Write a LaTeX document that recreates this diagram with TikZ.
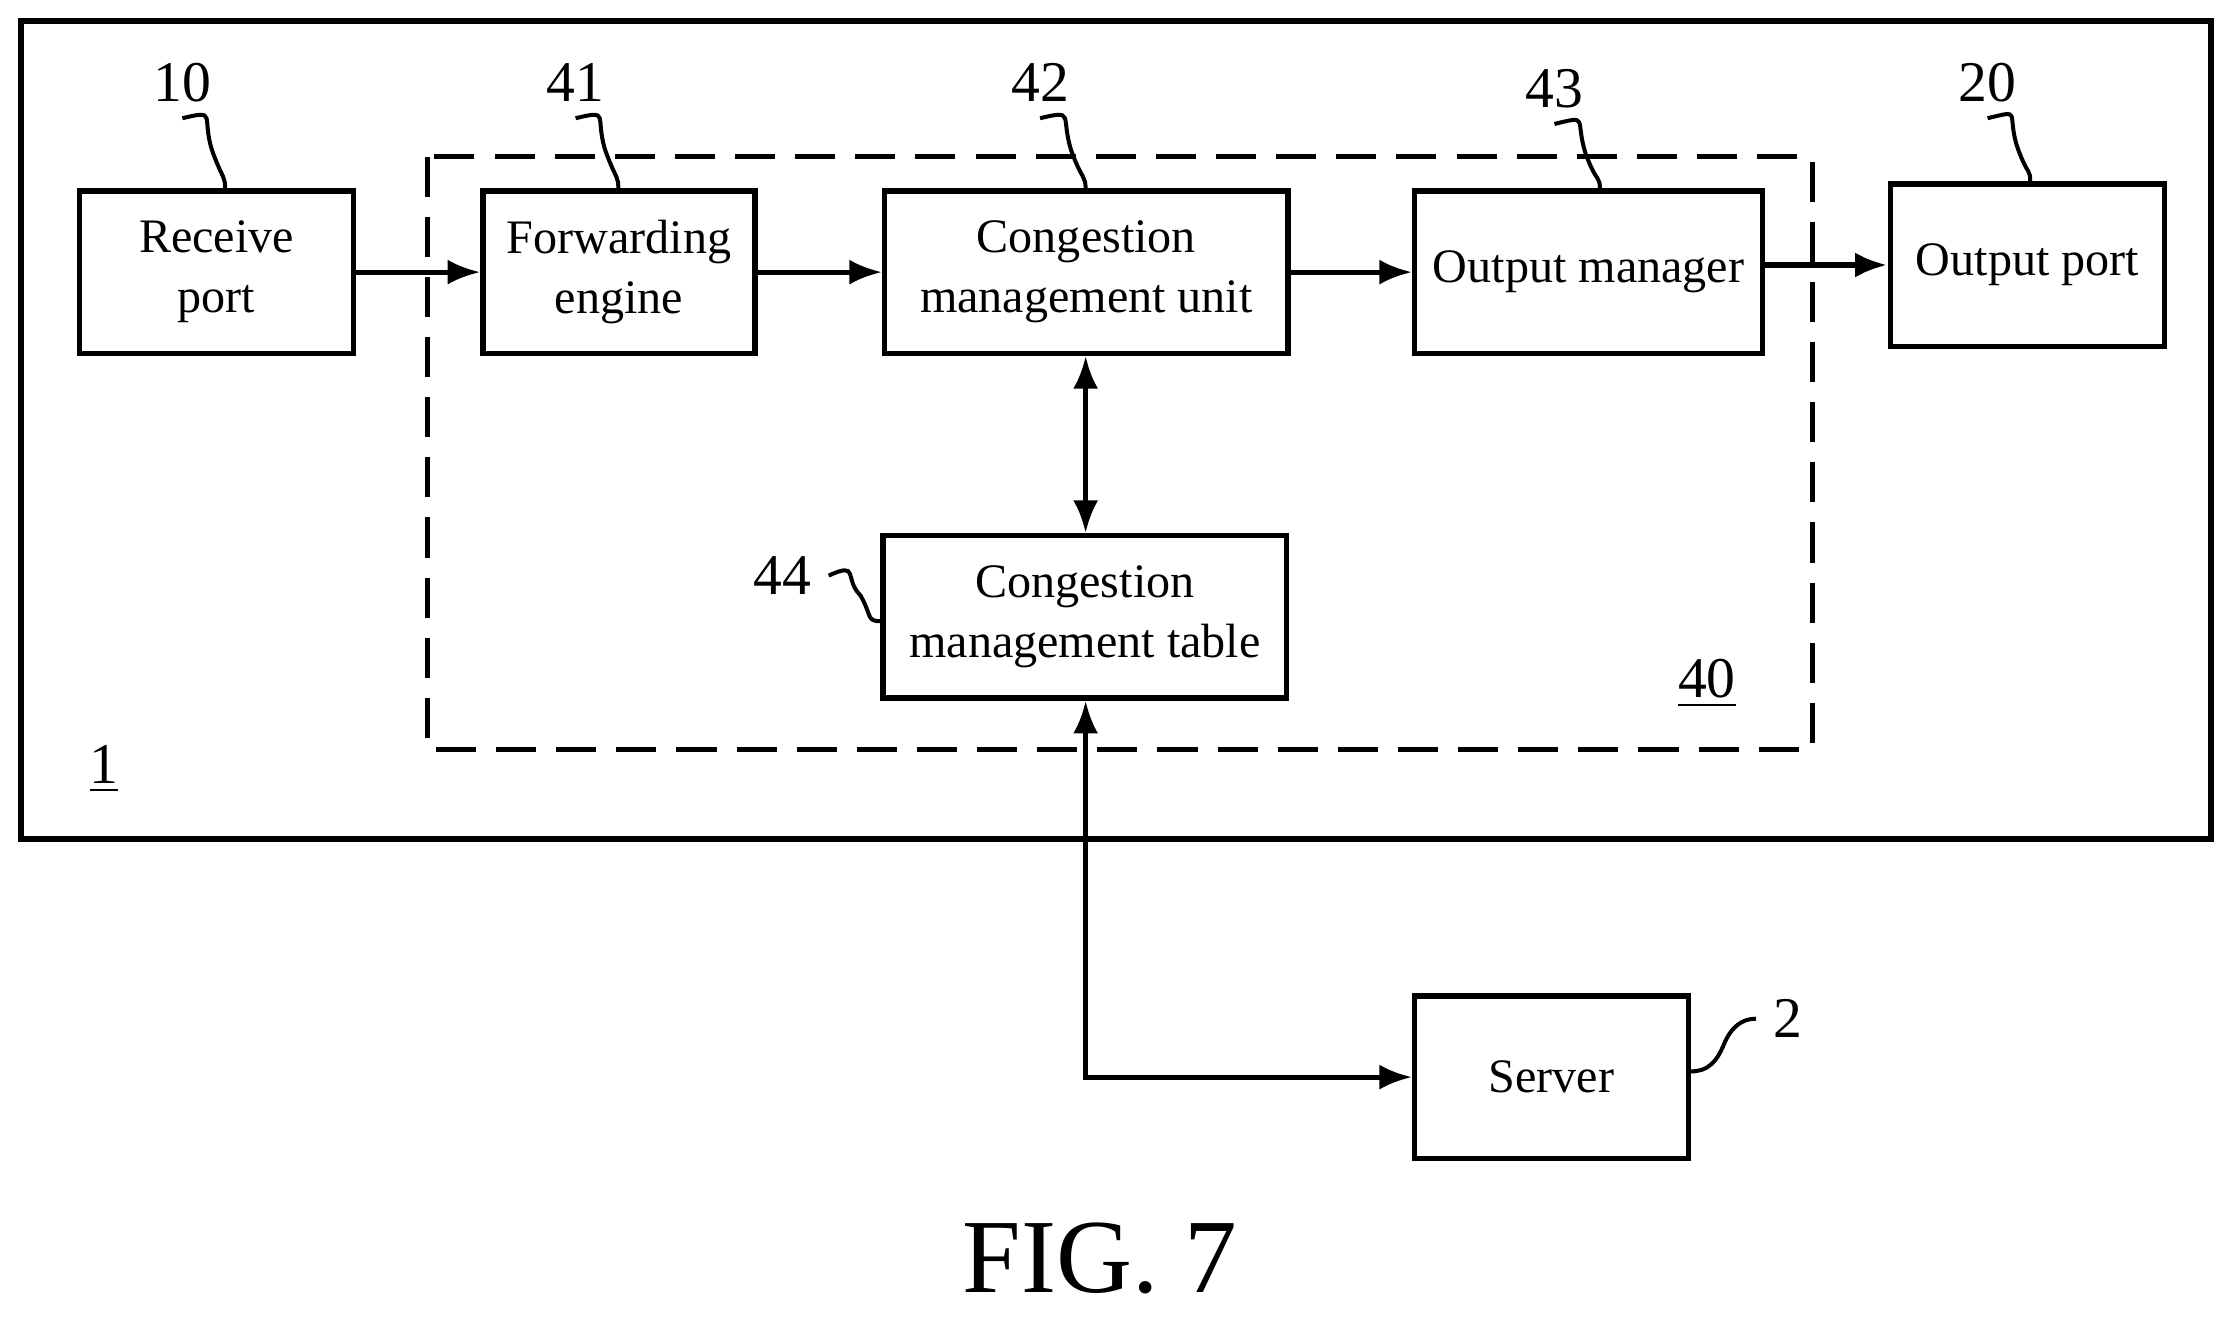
\documentclass[tikz,border=0pt]{standalone}
\usepackage{fontspec}
\setmainfont{Liberation Serif}
\usetikzlibrary{arrows.meta,calc}
\begin{document}
\begin{tikzpicture}[x=0.01cm,y=-0.01cm,
  box/.style={draw,line width=1.1pt,align=center,font=\fontsize{9.6pt}{12pt}\selectfont,inner sep=0},
  lab/.style={font=\fontsize{11.5pt}{13pt}\selectfont},
  arr/.style={line width=1pt,-{Latex[length=6.5pt,width=5pt]}},
  darr/.style={line width=1pt,{Latex[length=6.5pt,width=5pt]}-{Latex[length=6.5pt,width=5pt]}},
  lead/.style={line width=0.8pt}]
\useasboundingbox (0,0) rectangle (1568,924);
\draw[line width=1.2pt] (15,15) rectangle (1552,589);
\draw[line width=1.1pt,dash pattern=on 8pt off 4pt] (300,110) rectangle (1272,526);
\node[box,minimum width=1.92cm,minimum height=1.14cm] (rp) at (152,191) {Receive\\port};
\node[box,minimum width=1.91cm,minimum height=1.14cm] (fe) at (434.5,191) {Forwarding\\engine};
\node[box,minimum width=2.83cm,minimum height=1.14cm] (cmu) at (762.5,191) {Congestion\\management unit};
\node[box,minimum width=2.44cm,minimum height=1.14cm] (om) at (1115,191) {Output manager};
\node[box,minimum width=1.92cm,minimum height=1.14cm] (op) at (1423,186) {Output port};
\node[box,minimum width=2.83cm,minimum height=1.14cm] (cmt) at (761.5,433) {Congestion\\management table};
\node[box,minimum width=1.92cm,minimum height=1.14cm] (sv) at (1089,756) {Server};
\draw[arr] (rp.east) -- (fe.west);
\draw[arr] (fe.east) -- (cmu.west);
\draw[arr] (cmu.east) -- (om.west);
\draw[arr,line width=1.3pt] (om.east|-op.west) -- (op.west);
\draw[darr] (cmu.south-|762,0) -- (cmt.north-|762,0);
\draw[darr] (cmt.south-|762,0) |- (sv.west);
\node[lab] (l10) at (128,58) {10};
\node[lab] (l41) at (404,58) {41};
\node[lab] (l42) at (730,58) {42};
\node[lab] (l43) at (1091,62) {43};
\node[lab] (l20) at (1395,58) {20};
\node[lab] (l44) at (549,404) {44};
\node[lab] (l2) at (1255,715) {2};
\coordinate (c10) at (158,134); \coordinate (c41) at (434,134); \coordinate (c42) at (762,134);
\coordinate (c43) at (1123,134); \coordinate (c20) at (1425,129);
\foreach \a/\b in {l10/c10,l41/c41,l42/c42,l43/c43,l20/c20}
  \draw[lead] ($(\a)+(0,25)$) .. controls +(25,-6) and +(-8,-25) .. ($(\a)!0.5!(\b)+(6,10)$) .. controls +(8,22) and +(0,-12) .. (\b);
\draw[lead] (l44.east) .. controls +(22,-10) and +(-12,-12) .. (604,418) .. controls +(8,14) and +(-10,0) .. (cmt.west|-0,436);
\draw[lead] (sv.east|-0,752) .. controls +(12,0) and +(-5,12) .. (1210,733) .. controls +(5,-12) and +(-10,0) .. (l2.west);
\node[lab] at (1198,480) {\underline{40}};
\node[lab] at (73,540) {\underline{1}};
\node[font=\fontsize{21pt}{24pt}\selectfont] at (772,883) {FIG. 7};
\end{tikzpicture}
\end{document}
